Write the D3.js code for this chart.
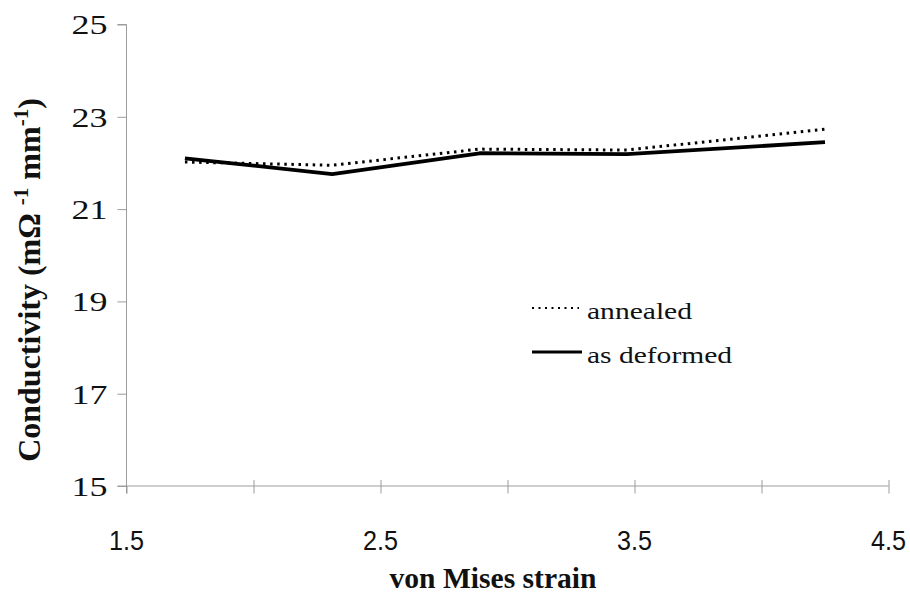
<!DOCTYPE html>
<html>
<head>
<meta charset="utf-8">
<script src="https://cdn.jsdelivr.net/npm/d3@7"></script>
<style>
  html, body { margin: 0; padding: 0; background: #fff; }
  svg { display: block; }
  .serif { font-family: "Liberation Serif", "Times New Roman", Times, "DejaVu Serif", serif; }
</style>
</head>
<body>
<svg id="chart" width="910" height="593"></svg>
<script>
// von Mises strain at each measurement
const strain = [1.73, 2.31, 2.89, 3.47, 4.25];
// Conductivity (mΩ⁻¹ mm⁻¹)
const annealed = [22.02, 21.95, 22.30, 22.28, 22.73];
const asDeformed = [22.10, 21.76, 22.21, 22.19, 22.45];

const xTicks = [1.5, 2.0, 2.5, 3.0, 3.5, 4.0, 4.5];
const xTickLabels = [1.5, 2.5, 3.5, 4.5];
const yTicks = [15, 17, 19, 21, 23, 25];

const svg = d3.select("#chart");
const x = d3.scaleLinear().domain([1.5, 4.5]).range([126.5, 888.5]);
const y = d3.scaleLinear().domain([15, 25]).range([486, 24.5]);

const axisColor = "#9c9c9c";
const narrow = "'Liberation Sans Narrow', 'Arial Narrow', 'Liberation Sans', sans-serif";

// y axis
const yAxis = svg.append("g").attr("transform", "translate(126.5,0)")
  .call(d3.axisLeft(y).tickValues(yTicks).tickSize(9).tickPadding(10).tickFormat(d3.format("d")));
yAxis.attr("font-family", null);
yAxis.select(".domain").attr("stroke", axisColor).attr("d", `M-9,${y(25)}H0V${y(15) + 7.5}`);
yAxis.selectAll(".tick line").attr("stroke", axisColor);
yAxis.selectAll(".tick text")
  .attr("class", "serif").attr("font-size", 27).attr("fill", "#111")
  .attr("dy", "0.35em")
  .attr("textLength", 36).attr("lengthAdjust", "spacingAndGlyphs");

// x axis: crossing ticks
const xAxis = svg.append("g").attr("transform", `translate(0,${y(15)})`)
  .call(d3.axisBottom(x).tickValues(xTicks).tickSize(0).tickFormat(""));
xAxis.select(".domain").attr("stroke", axisColor).attr("d", `M${x(1.5) - 9},0H${x(4.5)}`);
xAxis.selectAll(".tick line").attr("stroke", axisColor).attr("y1", d => d === 1.5 ? 0 : -6).attr("y2", 7.5);

svg.append("g").selectAll("text").data(xTickLabels).join("text")
  .attr("x", d => x(d)).attr("y", 550)
  .attr("text-anchor", "middle")
  .attr("font-family", narrow).attr("font-size", 27).attr("fill", "#111")
  .attr("textLength", 35).attr("lengthAdjust", "spacingAndGlyphs")
  .text(d => d.toFixed(1));

// axis titles
svg.append("text").attr("class", "serif")
  .attr("x", 493).attr("y", 588)
  .attr("text-anchor", "middle")
  .attr("font-weight", "bold").attr("font-size", 29).attr("fill", "#111")
  .attr("textLength", 207).attr("lengthAdjust", "spacingAndGlyphs")
  .text("von Mises strain");

const yt = svg.append("text").attr("class", "serif")
  .attr("transform", `translate(40,280) rotate(-90)`)
  .attr("text-anchor", "middle")
  .attr("font-weight", "bold").attr("font-size", 32).attr("fill", "#111");
yt.append("tspan").text("Conductivity (mΩ ");
yt.append("tspan").attr("dy", -12).attr("font-size", 21).text("-1");
yt.append("tspan").attr("dy", 12).text(" mm");
yt.append("tspan").attr("dy", -12).attr("font-size", 21).text("-1");
yt.append("tspan").attr("dy", 12).text(")");

// series
const line = d3.line().x(d => x(d[0])).y(d => y(d[1]));
const pts = vals => strain.map((s, i) => [s, vals[i]]);

svg.append("path").datum(pts(asDeformed))
  .attr("d", line).attr("fill", "none").attr("stroke", "#000")
  .attr("stroke-width", 3.8).attr("stroke-linejoin", "round");

svg.append("path").datum(pts(annealed))
  .attr("d", line).attr("fill", "none").attr("stroke", "#000")
  .attr("stroke-width", 3).attr("stroke-dasharray", "2.5 4.6");

// legend
const lg = svg.append("g");
lg.append("line").attr("x1", 532).attr("x2", 579).attr("y1", 308).attr("y2", 308)
  .attr("stroke", "#000").attr("stroke-width", 2.2).attr("stroke-dasharray", "2 4.5");
lg.append("text").attr("class", "serif").attr("x", 587).attr("y", 319)
  .attr("font-size", 24).attr("fill", "#111")
  .attr("textLength", 105).attr("lengthAdjust", "spacingAndGlyphs").text("annealed");
lg.append("line").attr("x1", 532).attr("x2", 582).attr("y1", 352).attr("y2", 352)
  .attr("stroke", "#000").attr("stroke-width", 3);
lg.append("text").attr("class", "serif").attr("x", 587).attr("y", 363)
  .attr("font-size", 24).attr("fill", "#111")
  .attr("textLength", 145).attr("lengthAdjust", "spacingAndGlyphs").text("as deformed");
</script>
</body>
</html>
